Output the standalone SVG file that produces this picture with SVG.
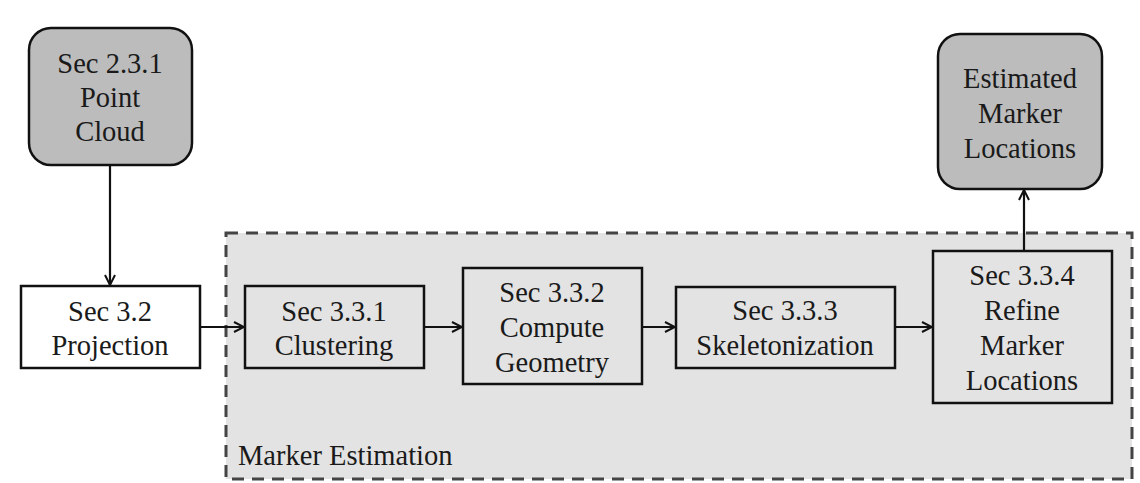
<svg xmlns="http://www.w3.org/2000/svg" width="1140" height="483" viewBox="0 0 1140 483" font-family="'Liberation Serif', serif">
<defs>
<style>
text{font-family:'Liberation Serif',serif;font-size:28.5px;fill:#1a1a1a;text-anchor:middle}
.box{fill:#ffffff;stroke:#111;stroke-width:2.5}
.inbox{fill:#e3e3e3;stroke:#111;stroke-width:2.5}
.term{fill:#bcbcbc;stroke:#111;stroke-width:2.5}
.edge{fill:none;stroke:#111;stroke-width:2.2}
</style>
<marker id="arr" viewBox="0 0 12 12" refX="11" refY="6" markerWidth="12" markerHeight="12" markerUnits="userSpaceOnUse" orient="auto">
<path d="M1,1 L11,6 L1,11" fill="none" stroke="#111" stroke-width="2"/>
</marker>
</defs>
<rect width="1140" height="483" fill="#ffffff"/>
<g id="container">
<rect x="226" y="233" width="906" height="246" fill="#e3e3e3" stroke="#444" stroke-width="3" stroke-dasharray="12,8"/>
<text x="238" y="465" style="text-anchor:start">Marker Estimation</text>
</g>
<g id="n_pointcloud">
<rect class="term" x="29" y="28" width="163" height="137" rx="22"/>
<text x="110" y="73">Sec 2.3.1</text>
<text x="110" y="107">Point</text>
<text x="110" y="141">Cloud</text>
</g>
<g id="n_estimated">
<rect class="term" x="938" y="34" width="164" height="155" rx="22"/>
<text x="1020" y="88">Estimated</text>
<text x="1020" y="123">Marker</text>
<text x="1020" y="158">Locations</text>
</g>
<g id="n_projection">
<rect class="box" x="21" y="286" width="179" height="82"/>
<text x="110" y="321">Sec 3.2</text>
<text x="110" y="355">Projection</text>
</g>
<g id="n_clustering">
<rect class="inbox" x="245" y="286" width="179" height="82"/>
<text x="334" y="321">Sec 3.3.1</text>
<text x="334" y="355">Clustering</text>
</g>
<g id="n_geometry">
<rect class="inbox" x="463" y="268" width="179" height="116"/>
<text x="552" y="302">Sec 3.3.2</text>
<text x="552" y="337">Compute</text>
<text x="552" y="372">Geometry</text>
</g>
<g id="n_skeleton">
<rect class="inbox" x="676" y="287" width="219" height="81"/>
<text x="785" y="320">Sec 3.3.3</text>
<text x="785" y="355">Skeletonization</text>
</g>
<g id="n_refine">
<rect class="inbox" x="933" y="251" width="179" height="152"/>
<text x="1022" y="285">Sec 3.3.4</text>
<text x="1022" y="320">Refine</text>
<text x="1022" y="355">Marker</text>
<text x="1022" y="390">Locations</text>
</g>
<g id="connectors">
<line class="edge" x1="110" y1="165" x2="110" y2="285" marker-end="url(#arr)"/>
<line class="edge" x1="200" y1="327" x2="244" y2="327" marker-end="url(#arr)"/>
<line class="edge" x1="424" y1="327" x2="462" y2="327" marker-end="url(#arr)"/>
<line class="edge" x1="642" y1="327" x2="675" y2="327" marker-end="url(#arr)"/>
<line class="edge" x1="895" y1="327" x2="932" y2="327" marker-end="url(#arr)"/>
<line class="edge" x1="1024" y1="251" x2="1024" y2="190" marker-end="url(#arr)"/>
</g>
</svg>
